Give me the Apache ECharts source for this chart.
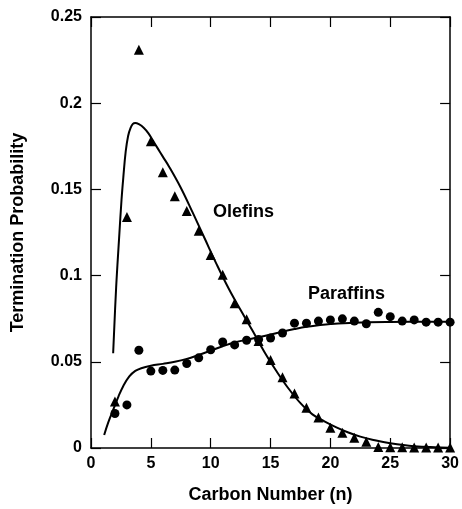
<!DOCTYPE html>
<html>
<head>
<meta charset="utf-8">
<script src="https://cdn.jsdelivr.net/npm/echarts@6/dist/echarts.min.js"></script>
<style>
html,body{margin:0;padding:0;background:#fff;}
#chart{width:462px;height:509px;}
</style>
</head>
<body>
<div id="chart"></div>
<script>
// Measured data points (carbon number n, termination probability)
var carbonNumbers = [2,3,4,5,6,7,8,9,10,11,12,13,14,15,16,17,18,19,20,21,22,23,24,25,26,27,28,29,30];
var olefinValues = [0.027,0.134,0.231,0.178,0.160,0.146,0.1375,0.126,0.112,0.1005,0.084,0.0747,0.062,0.051,0.041,0.0316,0.0234,0.0177,0.0117,0.0088,0.0059,0.0036,0.0006,0.0005,0.0004,0.0003,0.0003,0.0003,0.0003];
var paraffinValues = [0.020,0.025,0.0567,0.0446,0.0450,0.0452,0.049,0.0523,0.057,0.0615,0.0598,0.0625,0.0630,0.0638,0.0667,0.0724,0.0724,0.0736,0.0743,0.0749,0.0736,0.0721,0.0787,0.0762,0.0736,0.0743,0.0730,0.0730,0.0730];

// Fitted model curves
var olefinCurveX = [1.85,2.1,2.35,2.55,2.7,2.9,3.1,3.3,3.5,3.7,4.0,4.4,4.8,5.2,5.6,6.0,6.5,7.5,8.5,9.5,10.5,11.5,12.5,13.5,14.5,15.5,16.5,17.5,18.5,19.5,20.5,21.5,22.5,23.5,25,27,30];
var olefinCurveY = [0.055,0.093,0.122,0.144,0.157,0.172,0.181,0.1855,0.188,0.1885,0.1878,0.1858,0.1825,0.178,0.1735,0.169,0.1635,0.151,0.1365,0.1215,0.1065,0.0925,0.080,0.068,0.0555,0.0445,0.0345,0.026,0.0195,0.0155,0.012,0.009,0.0066,0.0048,0.0027,0.001,0.0002];
var paraffinCurveX = [1.1,1.45,1.9,2.3,2.7,3.2,3.7,4.2,5,6,7,8,9,10,11,12,13,14,15,16,17,18,19,20,22,25,30];
var paraffinCurveY = [0.0075,0.015,0.023,0.030,0.036,0.0415,0.0447,0.0463,0.0477,0.0488,0.050,0.0517,0.054,0.0565,0.059,0.0612,0.0628,0.0642,0.0658,0.0675,0.069,0.0703,0.0712,0.0719,0.0727,0.0731,0.0733];

var xTicks = [0,5,10,15,20,25,30];
var yTicks = [0,0.05,0.1,0.15,0.2,0.25];

function pairs(xs, ys){ return xs.map(function(x,i){ return [x, ys[i]]; }); }

var FONT = '"Liberation Sans", Arial, sans-serif';
var chart = echarts.init(document.getElementById('chart'), null, {renderer:'canvas'});
var axisLine = {show:true, onZero:false, lineStyle:{color:'#000', width:1.5}};
var tick = {show:true, inside:true, length:10, lineStyle:{color:'#000', width:1.2}};
var option = {
  backgroundColor:'#fff',
  animation:false,
  grid:{left:91, right:8, top:17, bottom:57},
  xAxis:[{
    type:'value', min:0, max:30, interval:5, position:'bottom',
    axisLine:axisLine, axisTick:tick,
    axisLabel:{color:'#000', fontFamily:FONT, fontWeight:'bold', fontSize:16, margin:8,
      formatter:function(v){ return xTicks.indexOf(v) >= 0 ? String(v) : ''; }},
    splitLine:{show:false},
    name:'Carbon Number (n)', nameLocation:'middle', nameGap:38,
    nameTextStyle:{color:'#000', fontFamily:FONT, fontWeight:'bold', fontSize:18}
  },{
    type:'value', min:0, max:30, interval:5, position:'top',
    axisLine:axisLine, axisTick:tick,
    axisLabel:{show:false}, splitLine:{show:false}
  }],
  yAxis:[{
    type:'value', min:0, max:0.25, interval:0.05, position:'left',
    axisLine:axisLine, axisTick:tick,
    axisLabel:{color:'#000', fontFamily:FONT, fontWeight:'bold', fontSize:16, margin:9,
      formatter:function(v){
        var t = Math.round(v*100)/100;
        return t === 0 ? '0' : String(t);
      }},
    splitLine:{show:false},
    name:'Termination Probability', nameLocation:'middle', nameGap:64,
    nameTextStyle:{color:'#000', fontFamily:FONT, fontWeight:'bold', fontSize:18}
  },{
    type:'value', min:0, max:0.25, interval:0.05, position:'right',
    axisLine:axisLine, axisTick:tick,
    axisLabel:{show:false}, splitLine:{show:false}
  }],
  series:[
    {type:'line', name:'Olefins fit', data:pairs(olefinCurveX, olefinCurveY), smooth:0.4, showSymbol:false,
      lineStyle:{color:'#000', width:2}, z:2},
    {type:'line', name:'Paraffins fit', data:pairs(paraffinCurveX, paraffinCurveY), smooth:0.4, showSymbol:false,
      lineStyle:{color:'#000', width:2}, z:2},
    {type:'scatter', name:'Olefins', data:pairs(carbonNumbers, olefinValues), symbol:'triangle', symbolSize:10,
      itemStyle:{color:'#000', opacity:1}, z:3},
    {type:'scatter', name:'Paraffins', data:pairs(carbonNumbers, paraffinValues), symbol:'circle', symbolSize:9,
      itemStyle:{color:'#000', opacity:1}, z:3}
  ],
  graphic:[
    {type:'text', left:213, top:203, style:{text:'Olefins', fill:'#000', font:'bold 18px '+FONT}},
    {type:'text', left:308, top:285, style:{text:'Paraffins', fill:'#000', font:'bold 18px '+FONT}}
  ]
};
chart.setOption(option);
</script>
</body>
</html>
